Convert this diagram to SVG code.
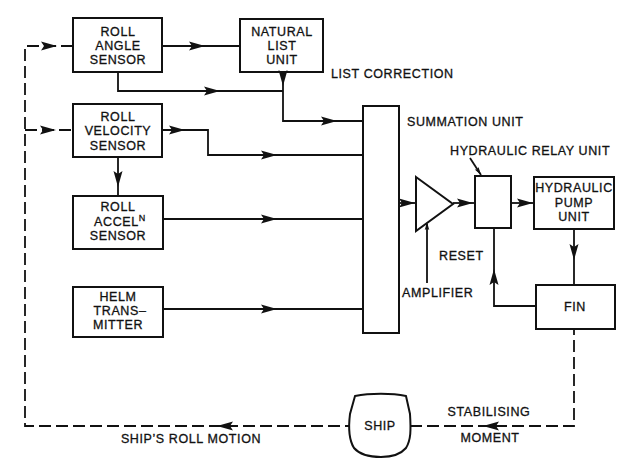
<svg xmlns="http://www.w3.org/2000/svg" xmlns:xlink="http://www.w3.org/1999/xlink" width="631" height="463" viewBox="0 0 631 463">
<style>
.bx{fill:none;stroke:#111;stroke-width:2}
.ln{fill:none;stroke:#111;stroke-width:1.8}
.ds{fill:none;stroke:#111;stroke-width:1.8;stroke-dasharray:12 5}
.t{font-family:"Liberation Sans",Arial,sans-serif;font-size:12.5px;fill:#111;stroke:#111;stroke-width:0.3px;letter-spacing:0.6px;text-anchor:middle}
.l{text-anchor:start}
</style>
<defs>
<path id="ah" d="M0,0 L-16,-4.5 L-13,0 L-16,4.5 Z" fill="#111"/>
</defs>
<rect width="631" height="463" fill="#fff"/>
<g id="connectors">
<path class="ds" d="M73,46 H25 V426 H349"/>
<path class="ds" d="M25,130 H73"/>
<path class="ds" d="M410,426 H574 V329"/>
<path class="ln" d="M162,46 H240"/>
<path class="ln" d="M118,72 V91 H283"/>
<path class="ln" d="M283,72 V121 H363"/>
<path class="ln" d="M162,130 H208 V155 H363"/>
<path class="ln" d="M118,157 V196"/>
<path class="ln" d="M163,219 H363"/>
<path class="ln" d="M163,309 H363"/>
<path class="ln" d="M399,203 H416"/>
<path class="ln" d="M453,203 H475"/>
<path class="ln" d="M511,203 H534"/>
<path class="ln" d="M574,229 V285"/>
<path class="ln" d="M536,306 H494 V228"/>
<path class="ln" d="M427,283 V224" stroke-width="1.2"/>
<path class="ln" d="M470,158 L481,175" stroke-width="1.2"/>
<use xlink:href="#ah" transform="translate(57,46)"/>
<use xlink:href="#ah" transform="translate(205,46)"/>
<use xlink:href="#ah" transform="translate(220,91)"/>
<use xlink:href="#ah" transform="translate(283,86) rotate(90)"/>
<use xlink:href="#ah" transform="translate(337,121)"/>
<use xlink:href="#ah" transform="translate(56,130)"/>
<use xlink:href="#ah" transform="translate(185,130)"/>
<use xlink:href="#ah" transform="translate(277,155)"/>
<use xlink:href="#ah" transform="translate(118,187) rotate(90)"/>
<use xlink:href="#ah" transform="translate(277,219)"/>
<use xlink:href="#ah" transform="translate(277,309)"/>
<use xlink:href="#ah" transform="translate(415,203)"/>
<use xlink:href="#ah" transform="translate(473,203)"/>
<use xlink:href="#ah" transform="translate(533,203)"/>
<use xlink:href="#ah" transform="translate(574,260) rotate(90)"/>
<use xlink:href="#ah" transform="translate(494,269) rotate(-90)"/>
<use xlink:href="#ah" transform="translate(483,426) rotate(180)"/>
<use xlink:href="#ah" transform="translate(217,426) rotate(180)"/>
<use xlink:href="#ah" transform="translate(427,222) rotate(-90) scale(0.5)"/>
<use xlink:href="#ah" transform="translate(481,175) rotate(57) scale(0.5)"/>
</g>
<g id="roll-angle-sensor">
<rect class="bx" x="73" y="18" width="89" height="54"/>
<text class="t" x="118" y="36">ROLL</text>
<text class="t" x="118" y="50">ANGLE</text>
<text class="t" x="118" y="64">SENSOR</text>
</g>
<g id="natural-list-unit">
<rect class="bx" x="240" y="19" width="83" height="53"/>
<text class="t" x="282" y="36">NATURAL</text>
<text class="t" x="282" y="50">LIST</text>
<text class="t" x="282" y="64">UNIT</text>
</g>
<g id="roll-velocity-sensor">
<rect class="bx" x="73" y="104" width="89" height="53"/>
<text class="t" x="118" y="121">ROLL</text>
<text class="t" x="118" y="135">VELOCITY</text>
<text class="t" x="118" y="150">SENSOR</text>
</g>
<g id="roll-acceln-sensor">
<rect class="bx" x="73" y="196" width="90" height="53"/>
<text class="t" x="118" y="211">ROLL</text>
<text class="t" x="120" y="226">ACCEL<tspan font-size="9" dy="-5">N</tspan></text>
<text class="t" x="118" y="240">SENSOR</text>
</g>
<g id="helm-transmitter">
<rect class="bx" x="73" y="287" width="90" height="50"/>
<text class="t" x="118" y="301">HELM</text>
<text class="t" x="120" y="315">TRANS–</text>
<text class="t" x="118" y="329">MITTER</text>
</g>
<g id="summation-unit">
<rect class="bx" x="363" y="106" width="36" height="227"/>
</g>
<g id="amplifier">
<path class="bx" d="M416,177 L453,204 L416,231 Z"/>
</g>
<g id="hydraulic-relay-unit">
<rect class="bx" x="475" y="176" width="36" height="52"/>
</g>
<g id="hydraulic-pump-unit">
<rect class="bx" x="534" y="177" width="80" height="52"/>
<text class="t" x="574" y="192">HYDRAULIC</text>
<text class="t" x="574" y="207">PUMP</text>
<text class="t" x="574" y="221">UNIT</text>
</g>
<g id="fin">
<rect class="bx" x="536" y="285" width="79" height="44"/>
<text class="t" x="575" y="311">FIN</text>
</g>
<g id="ship">
<path class="bx" d="M355,396 C370,393 392,393 406,396 L410,414 C411,430 411,440 406,448 C400,455 390,457 381,457 C370,457 360,455 354,448 C349,440 348,430 350,414 Z"/>
<text class="t" x="380" y="430">SHIP</text>
</g>
<g id="labels">
<text class="t l" x="331" y="78">LIST CORRECTION</text>
<text class="t l" x="407" y="126">SUMMATION UNIT</text>
<text class="t l" x="450" y="155">HYDRAULIC RELAY UNIT</text>
<text class="t l" x="439" y="260">RESET</text>
<text class="t l" x="402" y="297">AMPLIFIER</text>
<text class="t" x="489" y="416">STABILISING</text>
<text class="t" x="490" y="442">MOMENT</text>
<text class="t" x="191" y="443">SHIP’S ROLL MOTION</text>
</g>
</svg>
